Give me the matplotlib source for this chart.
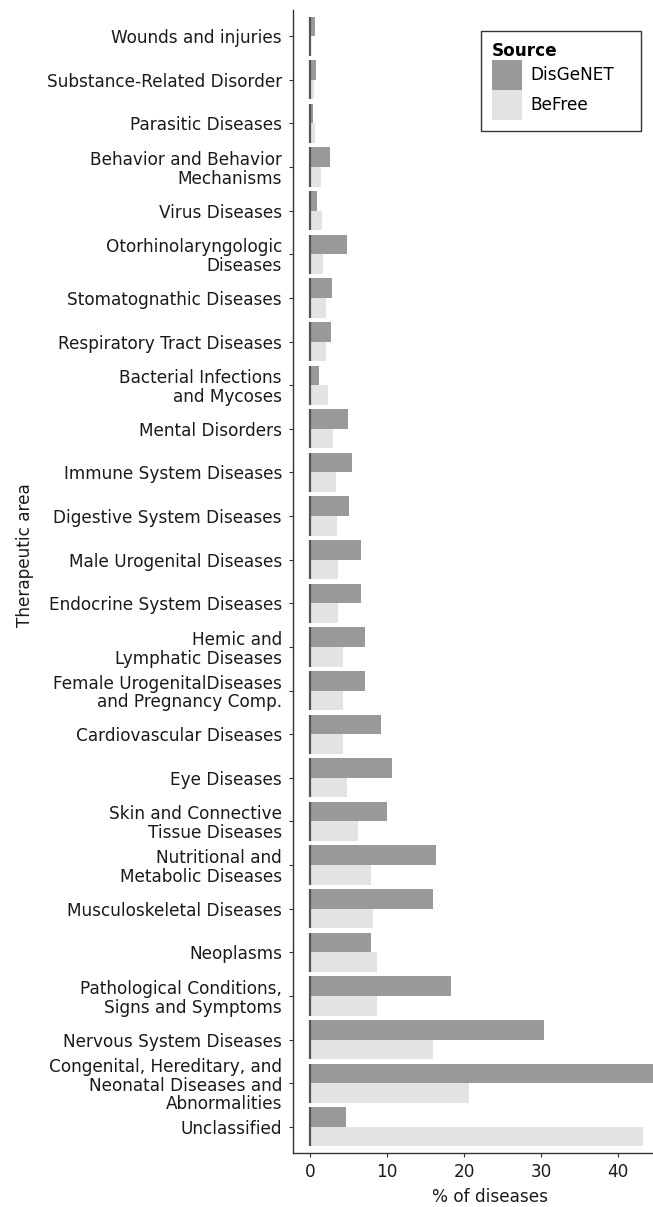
import matplotlib
matplotlib.use("Agg")
import matplotlib.pyplot as plt
from matplotlib.patches import Rectangle
import numpy as np

categories = [
    "Wounds and injuries",
    "Substance-Related Disorder",
    "Parasitic Diseases",
    "Behavior and Behavior\nMechanisms",
    "Virus Diseases",
    "Otorhinolaryngologic\nDiseases",
    "Stomatognathic Diseases",
    "Respiratory Tract Diseases",
    "Bacterial Infections\nand Mycoses",
    "Mental Disorders",
    "Immune System Diseases",
    "Digestive System Diseases",
    "Male Urogenital Diseases",
    "Endocrine System Diseases",
    "Hemic and\nLymphatic Diseases",
    "Female UrogenitalDiseases\nand Pregnancy Comp.",
    "Cardiovascular Diseases",
    "Eye Diseases",
    "Skin and Connective\nTissue Diseases",
    "Nutritional and\nMetabolic Diseases",
    "Musculoskeletal Diseases",
    "Neoplasms",
    "Pathological Conditions,\nSigns and Symptoms",
    "Nervous System Diseases",
    "Congenital, Hereditary, and\nNeonatal Diseases and\nAbnormalities",
    "Unclassified",
]

disgenet = [0.69, 0.82, 0.35, 2.55, 0.91, 4.84, 2.81, 2.77, 1.17, 4.97,
            5.40, 5.10, 6.57, 6.57, 7.18, 7.09, 9.17, 10.64, 9.94, 16.30,
            15.95, 7.91, 18.24, 30.30, 46.0, 4.71]
befree = [0.13, 0.56, 0.65, 1.38, 1.56, 1.64, 2.03, 2.07, 2.38, 2.94,
          3.33, 3.46, 3.59, 3.59, 4.24, 4.32, 4.32, 4.80, 6.23, 7.91,
          8.17, 8.69, 8.69, 15.90, 20.58, 43.15]

series_names = ["DisGeNET", "BeFree"]
colors = ["#999999", "#E3E3E3"]
x_ticks = [0, 10, 20, 30, 40]

plt.rcParams["font.family"] = ["DejaVu Sans"]
FS = 12.2

fig = plt.figure(figsize=(6.53, 12.07), dpi=100)
ax = fig.add_axes([293 / 653, 1 - 1153 / 1207, 1 - 293 / 653, (1153 - 10) / 1207])

n = len(categories)
pos = np.arange(n)
h = 0.45

ax.barh(pos - h / 2, disgenet, height=h, color=colors[0], label=series_names[0], zorder=2)
ax.barh(pos + h / 2, befree, height=h, color=colors[1], label=series_names[1], zorder=2)
ax.vlines(np.zeros(n), pos - h, pos + h, color="#555555", lw=1.6, zorder=3)

ax.set_ylim(n - 1 + 0.6, -0.6)
ax.set_xlim(-2.2, 44.5)
ax.set_yticks(pos)
ax.set_yticklabels(categories, fontsize=FS, color="#1a1a1a", linespacing=1.05)
ax.set_xticks(x_ticks)
ax.set_xticklabels([str(t) for t in x_ticks], fontsize=FS, color="#1a1a1a")
ax.tick_params(axis="both", length=3, width=0.8, color="#333333")
ax.tick_params(axis="y", pad=5)
ax.tick_params(axis="x", pad=4)

for s in ["top", "right"]:
    ax.spines[s].set_visible(False)
for s in ["left", "bottom"]:
    ax.spines[s].set_color("#333333")
    ax.spines[s].set_linewidth(1.0)

ax.set_xlabel("% of diseases", fontsize=FS, color="#1a1a1a")
ax.xaxis.set_label_coords((490 - 293) / 360, -(1188 - 1153) / 1143, transform=ax.transAxes)
ax.xaxis.label.set_verticalalignment("top")
ax.set_ylabel("Therapeutic area", fontsize=FS, color="#1a1a1a")
ax.yaxis.set_label_coords(-(293 - 25) / 360, (1153 - 555) / 1143, transform=ax.transAxes)
ax.yaxis.label.set_verticalalignment("center")

leg = ax.legend(title="Source", loc="upper left",
                bbox_to_anchor=((481 - 293) / 360, 1 - (31 - 10) / 1143),
                fontsize=FS, title_fontproperties={"weight": "bold", "size": FS},
                frameon=False,
                handlelength=1.75, handleheight=2.35, labelspacing=0.0,
                handletextpad=0.5, borderpad=0.65, alignment="left",
                borderaxespad=0)

fig.canvas.draw()
bb = leg.get_window_extent()
frame = Rectangle((bb.x0, bb.y0), bb.width + 16, bb.height,
                  transform=None, fill=False, edgecolor="#333333", lw=1.0,
                  zorder=10)
fig.add_artist(frame)

fig.savefig("out.png", dpi=100)
